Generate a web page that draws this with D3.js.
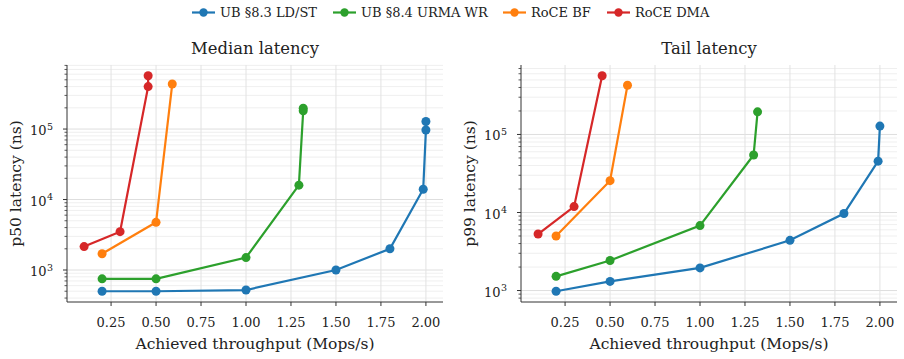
<!DOCTYPE html>
<html><head><meta charset="utf-8">
<script src="https://cdn.jsdelivr.net/npm/d3@7"></script>
<style>body{margin:0;background:#fff}svg{display:block;font-family:"DejaVu Serif"}</style>
</head><body>
<svg id="c" width="904" height="359"></svg>
<script>
const seriesNames = ["UB §8.3 LD/ST", "UB §8.4 URMA WR", "RoCE BF", "RoCE DMA"];
const colors = ["#1f77b4", "#2ca02c", "#ff7f0e", "#d62728"];
const xTicks = [0.25, 0.5, 0.75, 1.0, 1.25, 1.5, 1.75, 2.0];

// p50 (median) latency, ns
const p50_ub83_x = [0.2, 0.5, 1.0, 1.5, 1.8, 1.985, 2.0, 2.0];
const p50_ub83_y = [500, 500, 520, 1000, 2000, 14000, 97000, 128000];
const p50_ub84_x = [0.2, 0.5, 1.0, 1.294, 1.318, 1.318];
const p50_ub84_y = [750, 750, 1500, 16000, 182000, 197000];
const p50_bf_x = [0.2, 0.5, 0.59];
const p50_bf_y = [1700, 4750, 435000];
const p50_dma_x = [0.1, 0.3, 0.456, 0.456];
const p50_dma_y = [2150, 3500, 400000, 570000];

// p99 (tail) latency, ns
const p99_ub83_x = [0.2, 0.5, 1.0, 1.5, 1.8, 1.99, 2.0];
const p99_ub83_y = [980, 1310, 1950, 4400, 9700, 45500, 128000];
const p99_ub84_x = [0.2, 0.5, 1.0, 1.298, 1.32];
const p99_ub84_y = [1520, 2430, 6800, 54500, 195000];
const p99_bf_x = [0.2, 0.5, 0.597];
const p99_bf_y = [5000, 25600, 427000];
const p99_dma_x = [0.1, 0.3, 0.456];
const p99_dma_y = [5300, 11900, 565000];

const panels = [
  {title: "Median latency", ylabel: "p50 latency (ns)", left: 67, right: 443,
   series: [[p50_ub83_x,p50_ub83_y],[p50_ub84_x,p50_ub84_y],[p50_bf_x,p50_bf_y],[p50_dma_x,p50_dma_y]]},
  {title: "Tail latency", ylabel: "p99 latency (ns)", left: 521, right: 897,
   series: [[p99_ub83_x,p99_ub83_y],[p99_ub84_x,p99_ub84_y],[p99_bf_x,p99_bf_y],[p99_dma_x,p99_dma_y]]}
];
const plotTop = 65, plotBottom = 302;
const font = "DejaVu Serif";
const svg = d3.select("#c");

panels.forEach(p => {
  const allX = p.series.flatMap(s => s[0]);
  const allY = p.series.flatMap(s => s[1]);
  const [x0, x1] = d3.extent(allX);
  const mx = (x1 - x0) * 0.05;
  const [ly0, ly1] = d3.extent(allY).map(Math.log10);
  const my = (ly1 - ly0) * 0.05;
  const x = d3.scaleLinear().domain([x0 - mx, x1 + mx]).range([p.left, p.right]);
  const y = d3.scaleLog().domain([Math.pow(10, ly0 - my), Math.pow(10, ly1 + my)]).range([plotBottom, plotTop]);
  const g = svg.append("g");
  const [d0, d1] = y.domain();
  const minor = [], major = [];
  for (let e = Math.floor(Math.log10(d0)); e <= Math.ceil(Math.log10(d1)); e++) {
    for (let m = 1; m <= 9; m++) {
      const v = m * Math.pow(10, e);
      if (v >= d0 && v <= d1) (m === 1 ? major : minor).push({v, e});
    }
  }
  // grid
  g.selectAll(".gmin").data(minor).join("line")
    .attr("x1", p.left).attr("x2", p.right).attr("y1", d => y(d.v)).attr("y2", d => y(d.v))
    .attr("stroke", "#ebebeb").attr("stroke-width", 0.8);
  g.selectAll(".gmaj").data(major).join("line")
    .attr("x1", p.left).attr("x2", p.right).attr("y1", d => y(d.v)).attr("y2", d => y(d.v))
    .attr("stroke", "#dedede").attr("stroke-width", 1);
  g.selectAll(".gx").data(xTicks).join("line")
    .attr("x1", d => x(d)).attr("x2", d => x(d)).attr("y1", plotTop).attr("y2", plotBottom)
    .attr("stroke", "#e2e2e2").attr("stroke-width", 1);

  // spines
  g.append("line").attr("x1", p.left).attr("x2", p.left).attr("y1", plotTop).attr("y2", plotBottom)
    .attr("stroke", "#333").attr("stroke-width", 1);
  g.append("line").attr("x1", p.left).attr("x2", p.right).attr("y1", plotBottom).attr("y2", plotBottom)
    .attr("stroke", "#333").attr("stroke-width", 1);

  // x ticks
  g.selectAll(".xt").data(xTicks).join("line")
    .attr("x1", d => x(d)).attr("x2", d => x(d)).attr("y1", plotBottom).attr("y2", plotBottom + 4)
    .attr("stroke", "#333");
  g.selectAll(".xl").data(xTicks).join("text")
    .attr("x", d => x(d)).attr("y", plotBottom + 25).attr("text-anchor", "middle")
    .attr("font-family", font).attr("font-size", 13).attr("fill", "#222")
    .text(d => d3.format(".2f")(d));

  // y ticks
  g.selectAll(".ytm").data(minor).join("line")
    .attr("x1", p.left - 2.5).attr("x2", p.left).attr("y1", d => y(d.v)).attr("y2", d => y(d.v))
    .attr("stroke", "#333").attr("stroke-width", 0.8);
  g.selectAll(".ytM").data(major).join("line")
    .attr("x1", p.left - 4).attr("x2", p.left).attr("y1", d => y(d.v)).attr("y2", d => y(d.v))
    .attr("stroke", "#333");
  const yl = g.selectAll(".yl").data(major).join("text")
    .attr("x", p.left - 14).attr("y", d => y(d.v) + 6).attr("text-anchor", "end")
    .attr("font-family", font).attr("font-size", 13).attr("fill", "#222");
  yl.append("tspan").text("10");
  yl.append("tspan").attr("dx", 0.5).attr("dy", -5.5).attr("font-size", 9.5).text(d => d.e);

  // labels
  g.append("text").attr("x", (p.left + p.right) / 2).attr("y", 54).attr("text-anchor", "middle")
    .attr("font-family", font).attr("font-size", 16.4).attr("fill", "#222").text(p.title);
  g.append("text").attr("x", (p.left + p.right) / 2).attr("y", 349).attr("text-anchor", "middle")
    .attr("font-family", font).attr("font-size", 15.5).attr("fill", "#222").text("Achieved throughput (Mops/s)");
  g.append("text").attr("transform", `translate(${p.left - 46},${(plotTop + plotBottom) / 2}) rotate(-90)`)
    .attr("text-anchor", "middle").attr("font-family", font).attr("font-size", 15.5).attr("fill", "#222")
    .text(p.ylabel);

  // series
  const line = d3.line().x(d => x(d[0])).y(d => y(d[1]));
  p.series.forEach((s, i) => {
    const pts = s[0].map((v, k) => [v, s[1][k]]);
    g.append("path").attr("d", line(pts)).attr("fill", "none")
      .attr("stroke", colors[i]).attr("stroke-width", 2.2);
    g.selectAll(null).data(pts).join("circle")
      .attr("cx", d => x(d[0])).attr("cy", d => y(d[1])).attr("r", 4.5).attr("fill", colors[i]);
  });
});

// legend
const lg = svg.append("g");
const lx = [192, 333, 503, 607];
seriesNames.forEach((n, i) => {
  lg.append("line").attr("x1", lx[i]).attr("x2", lx[i] + 23).attr("y1", 12.5).attr("y2", 12.5)
    .attr("stroke", colors[i]).attr("stroke-width", 2.2);
  lg.append("circle").attr("cx", lx[i] + 11.5).attr("cy", 12.5).attr("r", 4.2).attr("fill", colors[i]);
  lg.append("text").attr("x", lx[i] + 28).attr("y", 17).attr("font-family", font).attr("font-size", 13)
    .attr("fill", "#222").text(n);
});
</script>
</body></html>
